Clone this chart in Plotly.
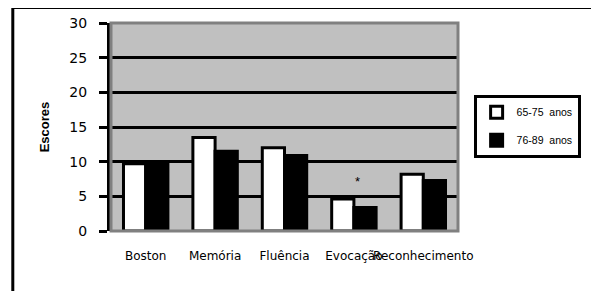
import plotly.graph_objects as go

categories = ["Boston", "Memória", "Fluência", "Evocação", "Reconhecimento"]
grupo_65_75 = [9.7, 13.5, 12.0, 4.6, 8.2]
grupo_76_89 = [9.8, 11.5, 10.9, 3.4, 7.3]
series_names = ["65-75  anos", "76-89  anos"]
y_ticks = [0, 5, 10, 15, 20, 25, 30]

fig = go.Figure()
fig.add_trace(go.Bar(
    x=categories, y=grupo_65_75, name=series_names[0],
    marker=dict(color="white", line=dict(color="black", width=3)),
    legendgroup="a",
))
fig.add_trace(go.Bar(
    x=categories, y=grupo_76_89, name=series_names[1],
    marker=dict(color="black", line=dict(color="black", width=3)),
    legendgroup="b",
))

fig.add_annotation(x="Evocação", y=7.1, text="*", showarrow=False, xshift=4,
                   font=dict(family="Liberation Sans, Arial", size=13, color="black"))

# plot-area border (gray)
fig.add_shape(type="rect", xref="paper", yref="paper", x0=0, x1=1, y0=0, y1=1,
              line=dict(color="#808080", width=3), layer="above")
# outer chart frame
fig.add_shape(type="rect", xref="paper", yref="paper",
              x0=-0.283, x1=1.40, y0=-0.35, y1=1.074,
              line=dict(color="black", width=3), layer="above")

# the page body adds an 8px offset, so the figure is 8px smaller than the window
fig.update_layout(
    width=591, height=283,
    margin=dict(l=103, r=141, t=15, b=60, autoexpand=False),
    paper_bgcolor="white", plot_bgcolor="#C0C0C0",
    barmode="group", bargap=0.36, bargroupgap=0,
    showlegend=True,
    legend=dict(x=1.045, y=0.655, xanchor="left", yanchor="top",
                bgcolor="white", bordercolor="black", borderwidth=3,
                font=dict(family="Liberation Sans, Arial", size=10.5, color="black"),
                traceorder="grouped", tracegroupgap=9, itemwidth=30),
    font=dict(family="Liberation Sans, Arial", color="black"),
)
fig.update_xaxes(
    automargin=False,
    showgrid=False, zeroline=False, showline=False, ticks="", tickangle=0,
    ticklabelstandoff=16,
    tickfont=dict(family="DejaVu Sans", size=12, color="black"),
)
fig.update_yaxes(
    automargin=False,
    range=[0, 30], tickvals=y_ticks, showgrid=True, gridcolor="black", gridwidth=3,
    zeroline=False, showline=True, linecolor="black", linewidth=4,
    ticks="outside", ticklen=8, tickwidth=3, tickcolor="black",
    ticklabelstandoff=9,
    tickfont=dict(family="DejaVu Sans", size=14, color="black"),
    title=dict(text="<b>Escores</b>", standoff=18,
               font=dict(family="Liberation Sans, Arial", size=13, color="black")),
)

fig.write_html("out.html")
